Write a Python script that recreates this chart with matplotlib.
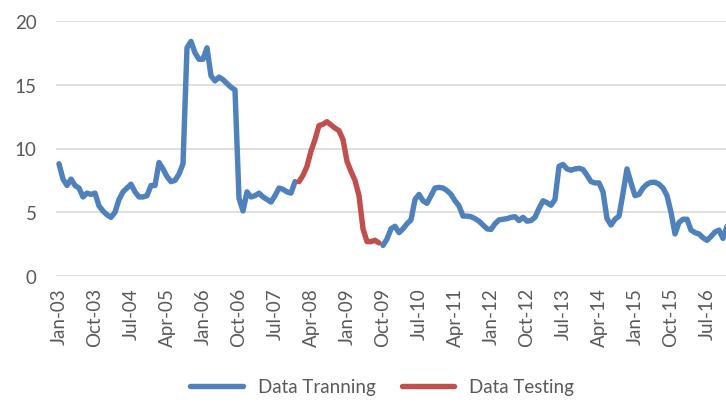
import matplotlib
matplotlib.use("Agg")
import matplotlib.pyplot as plt
import numpy as np
import pandas as pd

# monthly series, Jan-03 .. Dec-16
months = pd.date_range("2003-01-01", periods=168, freq="MS")

train_a = [8.8, 7.6, 7.1, 7.6, 7.1, 6.9, 6.2, 6.5, 6.4, 6.5,
           5.5, 5.1, 4.8, 4.6, 5.0, 6.0, 6.6, 6.9, 7.2, 6.6,
           6.2, 6.2, 6.3, 7.1, 7.1, 8.9, 8.4, 7.8, 7.4, 7.5,
           8.0, 8.8, 17.9, 18.4, 17.5, 17.0, 17.0, 17.9, 15.7, 15.3,
           15.6, 15.4, 15.1, 14.8, 14.6, 6.1, 5.1, 6.6, 6.2, 6.3,
           6.5, 6.2, 6.0, 5.8, 6.3, 6.9, 6.8, 6.6, 6.5, 7.4]

test = [7.4, 7.9, 8.6, 9.8, 10.7, 11.8, 11.9, 12.1, 11.85, 11.6,
        11.4, 10.7, 9.0, 8.2, 7.5, 6.3, 3.7, 2.7, 2.7, 2.8, 2.6]

train_b = [2.4, 2.9, 3.7, 3.9, 3.4, 3.7, 4.1, 4.4, 6.0, 6.4,
           5.9, 5.7, 6.3, 6.9, 6.95, 6.9, 6.7, 6.4, 5.9, 5.5,
           4.7, 4.7, 4.65, 4.5, 4.3, 4.0, 3.7, 3.65, 4.1, 4.4,
           4.45, 4.5, 4.6, 4.65, 4.35, 4.6, 4.3, 4.35, 4.6, 5.3,
           5.9, 5.75, 5.55, 6.0, 8.6, 8.75, 8.4, 8.3, 8.4, 8.45,
           8.35, 7.9, 7.4, 7.3, 7.3, 6.6, 4.5, 4.0, 4.45, 4.7,
           6.5, 8.4, 7.3, 6.3, 6.4, 6.9, 7.2, 7.35, 7.35, 7.2,
           6.9, 6.3, 5.0, 3.3, 4.2, 4.45, 4.45, 3.6, 3.4, 3.3,
           3.0, 2.8, 3.1, 3.45, 3.6, 2.95, 3.9]

n_a, n_t = len(train_a), len(test)
training = np.array(train_a + [np.nan] * n_t + train_b)
testing = np.full(len(months), np.nan)
testing[n_a:n_a + n_t] = test
x = np.arange(len(months))

tick_pos = np.arange(0, len(months), 9)
tick_labels = [months[i].strftime("%b-%y") for i in tick_pos]

plt.rcParams["font.family"] = ["Lato", "DejaVu Sans"]
txt = "#595959"

fig = plt.figure(figsize=(7.26, 4.06), dpi=100)
ax = fig.add_axes([56 / 726, 1 - 277 / 406, 1 - 56 / 726, 255 / 406])

ax.plot(x, training, color="#4F81BD", lw=3.9, solid_capstyle="round",
        solid_joinstyle="round", label="Data Tranning")
ax.plot(x, testing, color="#C0504D", lw=3.9, solid_capstyle="round",
        solid_joinstyle="round", label="Data Testing")

ax.set_ylim(0, 20)
ax.set_xlim(-0.75, 166.75)
ax.set_yticks([0, 5, 10, 15, 20])
ax.set_xticks(tick_pos)
ax.set_xticklabels(tick_labels, rotation=90)
ax.grid(axis="y", color="#D9D9D9", lw=1.2)
ax.set_axisbelow(True)
for s in ax.spines.values():
    s.set_visible(False)
ax.tick_params(axis="both", length=0, labelsize=13.5, colors=txt)
ax.tick_params(axis="y", pad=14)
ax.tick_params(axis="x", pad=8)

fig.legend(loc="center", bbox_to_anchor=(382 / 726, 1 - 388 / 406), ncol=2,
           frameon=False, fontsize=13.5, handlelength=2.8, columnspacing=1.4,
           handletextpad=0.8, labelcolor=txt)

fig.savefig("out.png", dpi=100)
